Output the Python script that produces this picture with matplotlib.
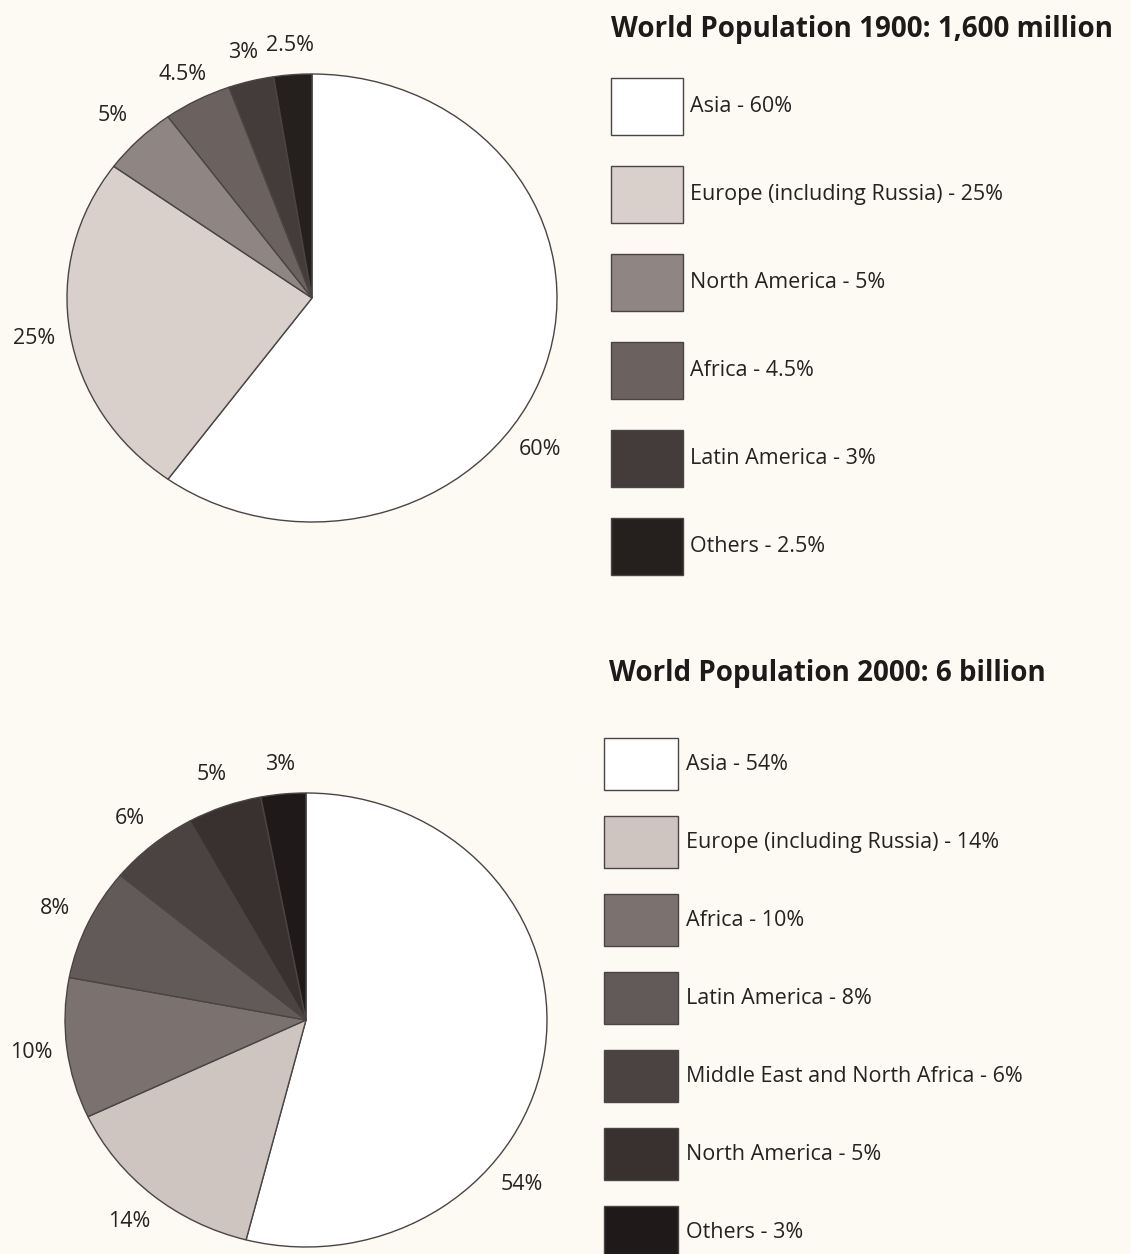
import numpy as np
import matplotlib
matplotlib.use('Agg')
import matplotlib.pyplot as plt

plt.rcParams['font.family'] = ['Open Sans', 'DejaVu Sans']

# 1900 data
regions_1900 = ['Asia', 'Europe (including Russia)', 'North America',
                'Africa', 'Latin America', 'Others']
share_1900 = [60, 25, 5, 4.5, 3, 2.5]
colors_1900 = ['#ffffff', '#d9d0cb', '#8f8582', '#6b625f', '#443c3a', '#251f1e']

# 2000 data
regions_2000 = ['Asia', 'Europe (including Russia)', 'Africa', 'Latin America',
                'Middle East and North Africa', 'North America', 'Others']
share_2000 = [54, 14, 10, 8, 6, 5, 3]
colors_2000 = ['#ffffff', '#cfc5c0', '#7b7270', '#625a58', '#4a4341',
               '#38312f', '#1f1a19']

W, H = 1131, 1254
BG = '#fdfaf4'
TXT = '#262221'


def fmt(v):
    return '{:g}%'.format(v)


def pie_axes(fig, cx, cy, rx, ry, pad=1.3):
    # place axes so that unit radius maps to rx, ry pixels
    left = cx - pad*rx
    top = cy - pad*ry
    w, h = 2*pad*rx, 2*pad*ry
    ax = fig.add_axes([left/W, 1 - (top + h)/H, w/W, h/H])
    return ax, pad


def draw_pie(ax, pad, values, colors, asia_angle, fs):
    wedges, _ = ax.pie(values, colors=colors, startangle=90, counterclock=False,
                       wedgeprops=dict(edgecolor='#4a4544', linewidth=1.0))
    ax.set_aspect('auto')
    ax.set_xlim(-pad, pad)
    ax.set_ylim(-pad, pad)
    ax.axis('off')
    for i, (w, v) in enumerate(zip(wedges, values)):
        ang = 0.5*(w.theta1 + w.theta2)
        r = 1.15 if v > 4.5 else 1.13
        if i == 0:
            ang = asia_angle
        ax.text(r*np.cos(np.radians(ang)), r*np.sin(np.radians(ang)), fmt(v),
                ha='center', va='center', fontsize=fs, color=TXT)
    return wedges


def add_legend(fig, wedges, names, values, x0, y0, bw, bh, step, pad, fs):
    fpx = fs*100/72.
    # legend patch height = fs*hh - 0.35*fs*(hh - 0.7)
    hh = (bh - 0.245*fpx)/(0.65*fpx)
    labels = ['{} - {}'.format(n, fmt(v)) for n, v in zip(names, values)]
    leg = fig.legend(wedges, labels, loc='upper left',
                     bbox_to_anchor=(x0/W, 1 - y0/H),
                     bbox_transform=fig.transFigure,
                     frameon=False, fontsize=fs, borderpad=0, borderaxespad=0,
                     handlelength=bw/fpx, handleheight=hh,
                     labelspacing=(step - bh)/fpx, handletextpad=pad/fpx)
    for t in leg.get_texts():
        t.set_color(TXT)
    return leg


def main():
    fig = plt.figure(figsize=(W/100, H/100), dpi=100, facecolor=BG)
    fs = 15.5

    ax1, pad = pie_axes(fig, 312, 298, 245, 224)
    w1 = draw_pie(ax1, pad, share_1900, colors_1900, -36, fs)

    ax2, pad = pie_axes(fig, 306, 1020, 241, 227)
    w2 = draw_pie(ax2, pad, share_2000, colors_2000, -39, fs)

    fig.text(611/W, 1 - 30/H, 'World Population 1900: 1,600 million',
             fontsize=20, fontweight='bold', color='#1e1a19',
             ha='left', va='center')
    fig.text(609/W, 1 - 673/H, 'World Population 2000: 6 billion',
             fontsize=20, fontweight='bold', color='#1e1a19',
             ha='left', va='center')

    add_legend(fig, w1, regions_1900, share_1900, 611, 78, 72, 57, 88, 7, fs)
    add_legend(fig, w2, regions_2000, share_2000, 604, 738, 74, 52, 78, 8, fs)

    fig.savefig('out.png', dpi=100, facecolor=BG)


if __name__ == '__main__':
    main()
